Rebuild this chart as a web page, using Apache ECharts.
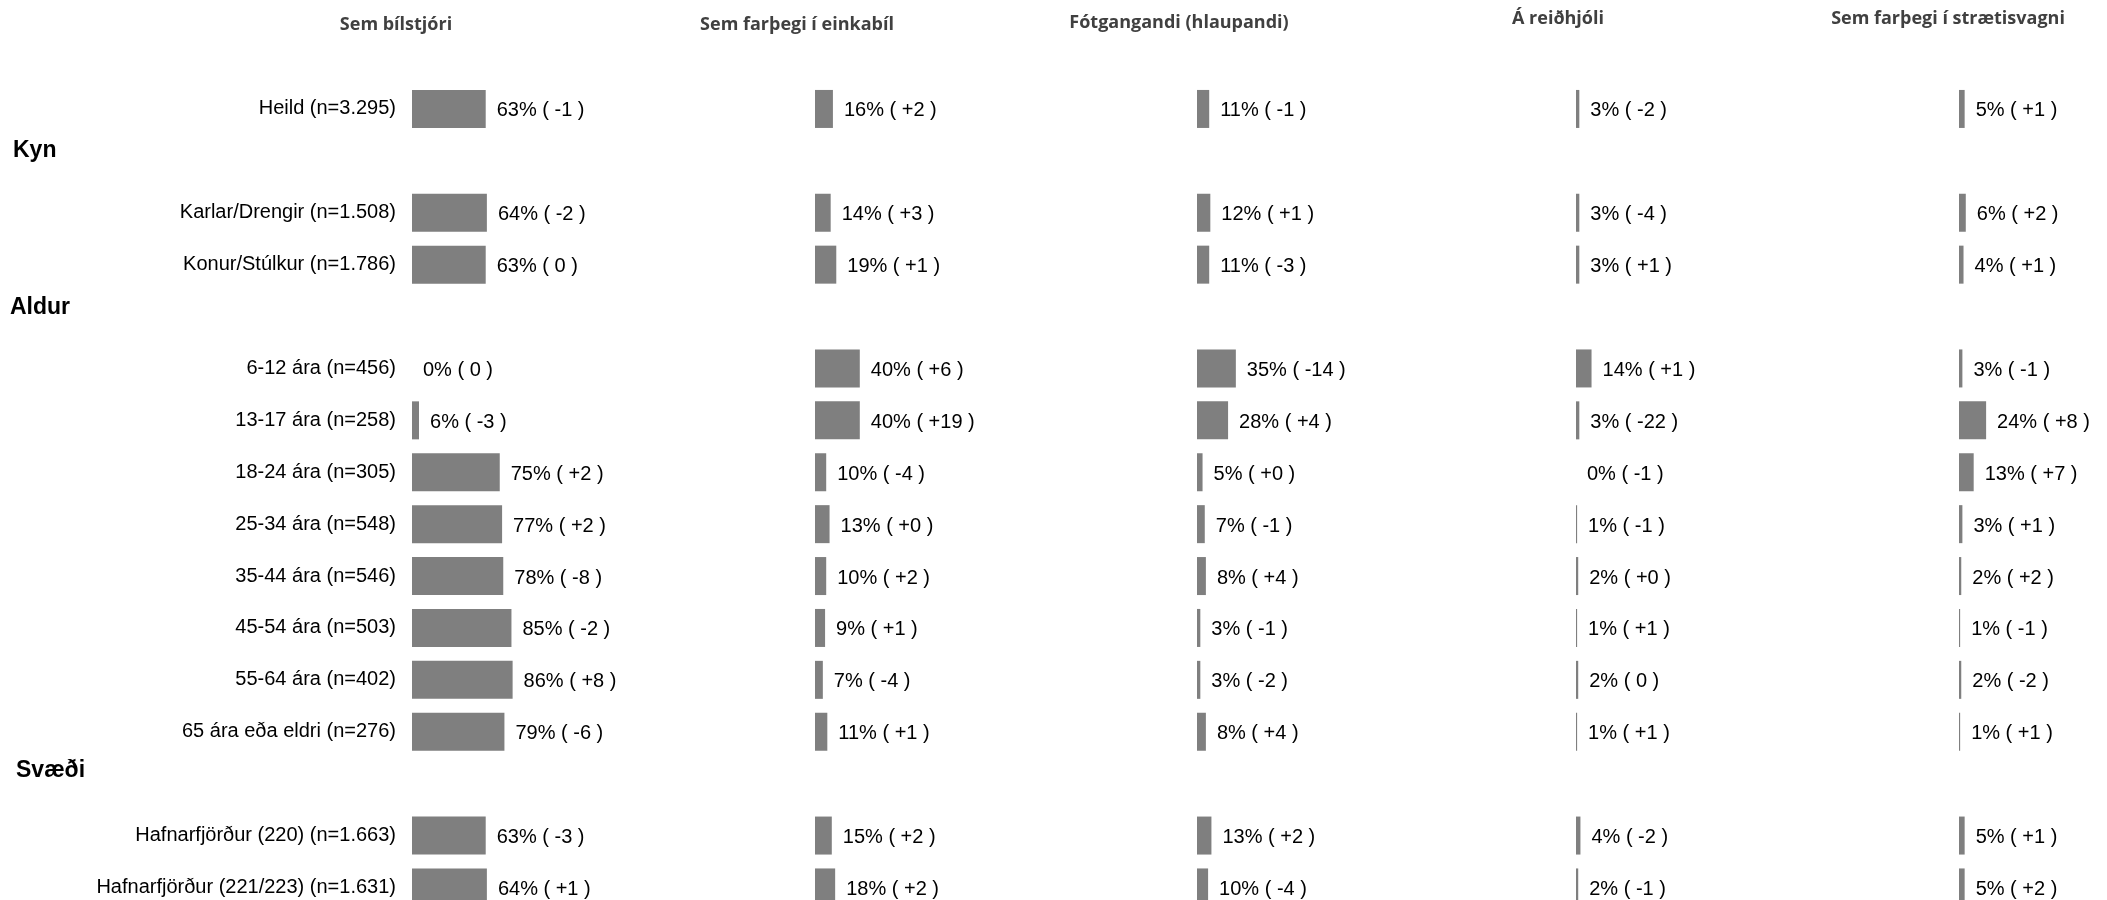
<!DOCTYPE html>
<html>
<head>
<meta charset="utf-8">
<script src="https://cdn.jsdelivr.net/npm/echarts@6/dist/echarts.min.js"></script>
<style>
html, body { margin: 0; padding: 0; background: #ffffff; }
#chart { width: 2107px; height: 900px; }
</style>
</head>
<body>
<div id="chart"></div>
<script>
// ---------- DATA ----------
const categories = [
  'Heild (n=3.295)',
  'Kyn',
  'Karlar/Drengir (n=1.508)',
  'Konur/Stúlkur (n=1.786)',
  'Aldur',
  '6-12 ára (n=456)',
  '13-17 ára (n=258)',
  '18-24 ára (n=305)',
  '25-34 ára (n=548)',
  '35-44 ára (n=546)',
  '45-54 ára (n=503)',
  '55-64 ára (n=402)',
  '65 ára eða eldri (n=276)',
  'Svæði',
  'Hafnarfjörður (220) (n=1.663)',
  'Hafnarfjörður (221/223) (n=1.631)'
];
const sectionHeaders = ['Kyn', 'Aldur', 'Svæði'];
const columnTitles = ['Sem bílstjóri', 'Sem farþegi í einkabíl', 'Fótgangandi (hlaupandi)', 'Á reiðhjóli', 'Sem farþegi í strætisvagni'];

const driverValues     = [63, null, 64, 63, null, 0, 6, 75, 77, 78, 85, 86, 79, null, 63, 64];
const driverChanges    = ['-1', '', '-2', '0', '', '0', '-3', '+2', '+2', '-8', '-2', '+8', '-6', '', '-3', '+1'];

const passengerValues  = [16, null, 14, 19, null, 40, 40, 10, 13, 10, 9, 7, 11, null, 15, 18];
const passengerChanges = ['+2', '', '+3', '+1', '', '+6', '+19', '-4', '+0', '+2', '+1', '-4', '+1', '', '+2', '+2'];

const walkValues       = [11, null, 12, 11, null, 35, 28, 5, 7, 8, 3, 3, 8, null, 13, 10];
const walkChanges      = ['-1', '', '+1', '-3', '', '-14', '+4', '+0', '-1', '+4', '-1', '-2', '+4', '', '+2', '-4'];

const bikeValues       = [3, null, 3, 3, null, 14, 3, 0, 1, 2, 1, 2, 1, null, 4, 2];
const bikeChanges      = ['-2', '', '-4', '+1', '', '+1', '-22', '-1', '-1', '+0', '+1', '0', '+1', '', '-2', '-1'];

const busValues        = [5, null, 6, 4, null, 3, 24, 13, 3, 2, 1, 2, 1, null, 5, 5];
const busChanges       = ['+1', '', '+2', '+1', '', '-1', '+8', '+7', '+1', '+2', '-1', '-2', '+1', '', '+1', '+2'];

const columnValues  = [driverValues, passengerValues, walkValues, bikeValues, busValues];
const columnChanges = [driverChanges, passengerChanges, walkChanges, bikeChanges, busChanges];

// ---------- LAYOUT ----------
const gridLefts  = [412, 815, 1197, 1576, 1959];
const gridWidths = [117, 112, 111, 111, 113];
const titleX     = [396, 797, 1179, 1558, 1948];
const titleY     = [25, 25, 23, 19, 19];
const headerPos  = [[13, 151], [10, 308], [16, 771]];
const gridTop = 83;
const gridHeight = 830.4;

const labelFont = '"Liberation Sans", Arial, sans-serif';
const barColor = '#7f7f7f';

const grids = [], xAxes = [], yAxes = [], series = [];
for (let i = 0; i < 5; i++) {
  grids.push({ left: gridLefts[i], width: gridWidths[i], top: gridTop, height: gridHeight, containLabel: false, outerBoundsMode: 'none' });
  xAxes.push({ type: 'value', gridIndex: i, min: 0, max: 100, show: false });
  yAxes.push({
    type: 'category', gridIndex: i, data: categories, inverse: true,
    axisLine: { show: false }, axisTick: { show: false }, splitLine: { show: false },
    axisLabel: {
      show: i === 0, margin: 16, color: '#000000', fontSize: 20, fontFamily: labelFont,
      interval: 0, padding: [10, 0, 0, 0],
      formatter: function (v) { return sectionHeaders.indexOf(v) >= 0 ? '' : v; }
    }
  });
  const changes = columnChanges[i];
  series.push({
    type: 'bar', xAxisIndex: i, yAxisIndex: i,
    data: columnValues[i],
    barWidth: 38,
    itemStyle: { color: barColor },
    silent: true,
    label: {
      show: true, position: 'right', distance: 11, offset: [0, 2],
      color: '#000000', fontSize: 20, fontFamily: labelFont,
      formatter: function (p) {
        if (p.value === null || p.value === undefined) return '';
        return p.value + '% ( ' + changes[p.dataIndex] + ' )';
      }
    }
  });
}

const graphics = [];
for (let i = 0; i < 5; i++) {
  graphics.push({
    type: 'text', x: titleX[i], y: titleY[i], silent: true,
    style: {
      text: columnTitles[i], fill: '#404040',
      font: 'bold 18px "Open Sans", sans-serif',
      align: 'center', verticalAlign: 'middle'
    }
  });
}
for (let i = 0; i < sectionHeaders.length; i++) {
  graphics.push({
    type: 'text', x: headerPos[i][0], y: headerPos[i][1], silent: true,
    style: {
      text: sectionHeaders[i], fill: '#000000',
      font: 'bold 23px "Liberation Sans", Arial, sans-serif',
      align: 'left', verticalAlign: 'middle'
    }
  });
}

const chart = echarts.init(document.getElementById('chart'), null, { renderer: 'canvas' });
chart.setOption({
  animation: false,
  backgroundColor: '#ffffff',
  grid: grids,
  xAxis: xAxes,
  yAxis: yAxes,
  series: series,
  graphic: graphics
});
</script>
</body>
</html>
